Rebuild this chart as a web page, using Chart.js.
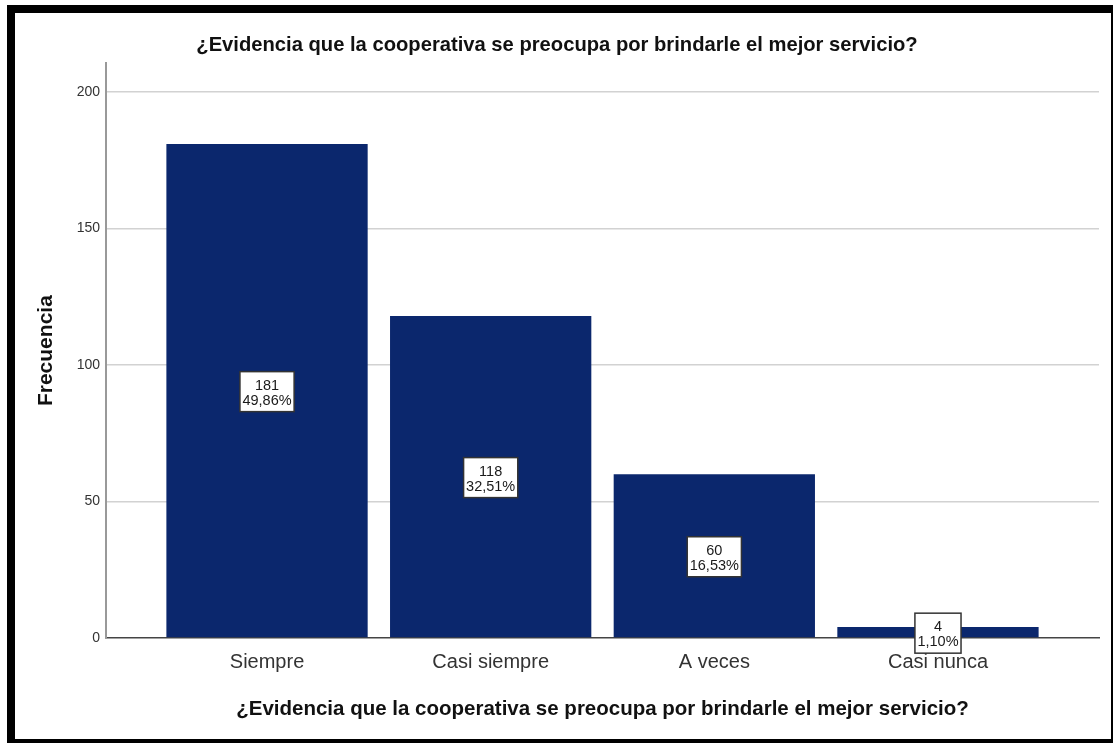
<!DOCTYPE html>
<html lang="es">
<head>
<meta charset="utf-8">
<title>¿Evidencia que la cooperativa se preocupa por brindarle el mejor servicio?</title>
<script src="https://cdn.jsdelivr.net/npm/chart.js@4/dist/chart.umd.min.js"></script>
<style>
  html, body { margin: 0; padding: 0; background: #fff; }
  #frame {
    position: absolute;
    left: 7px;
    top: 5px;
    width: 1096px;
    height: 726px;
    border-left: 8px solid #000;
    border-top: 8px solid #000;
    border-right: 2px solid #000;
    border-bottom: 4px solid #000;
    background: #fff;
  }
  #wrap { position: relative; width: 1096px; height: 726px; }
</style>
</head>
<body>
<div id="frame"><div id="wrap"><canvas id="chart"></canvas></div></div>
<script>
"use strict";

const TITLE = "¿Evidencia que la cooperativa se preocupa por brindarle el mejor servicio?";
const CATEGORIES = ["Siempre", "Casi siempre", "A veces", "Casi nunca"];
const FREQUENCIES = [181, 118, 60, 4];
const PERCENTS = ["49,86%", "32,51%", "16,53%", "1,10%"];
const Y_TICKS = [0, 50, 100, 150, 200];

const FONT = "'Liberation Sans', Arial, sans-serif";
const BAR_COLOR = "#0b276d";

// white boxes with count and percent at the middle of each bar
const barLabels = {
  id: "barLabels",
  afterDatasetsDraw(chart) {
    const { ctx } = chart;
    const meta = chart.getDatasetMeta(0);
    ctx.save();
    ctx.font = `14.5px ${FONT}`;
    ctx.textAlign = "center";
    ctx.textBaseline = "middle";
    meta.data.forEach((bar, i) => {
      const lines = [String(FREQUENCIES[i]), PERCENTS[i]];
      const w = Math.max(...lines.map((t) => ctx.measureText(t).width)) + 5;
      const h = 40;
      const cx = bar.x;
      const cy = (bar.y + bar.base) / 2 + 1;
      ctx.fillStyle = "#fff";
      ctx.fillRect(cx - w / 2, cy - h / 2, w, h);
      ctx.strokeStyle = "#333";
      ctx.lineWidth = 1.5;
      ctx.strokeRect(cx - w / 2, cy - h / 2, w, h);
      ctx.fillStyle = "#1a1a1a";
      ctx.fillText(lines[0], cx, cy - 6);
      ctx.fillText(lines[1], cx, cy + 9);
    });
    ctx.restore();
  },
};

const ctx = document.getElementById("chart").getContext("2d");
new Chart(ctx, {
  type: "bar",
  data: {
    datasets: [{
      data: FREQUENCIES.map((v, i) => ({ x: i + 1, y: v })),
      backgroundColor: BAR_COLOR,
      borderWidth: 0,
      barPercentage: 0.9,
      categoryPercentage: 1.0,
    }],
  },
  options: {
    responsive: true,
    maintainAspectRatio: false,
    animation: false,
    layout: { padding: { left: 0, right: 12, top: 0, bottom: 0 } },
    plugins: {
      legend: { display: false },
      tooltip: { enabled: false },
      title: {
        display: true,
        text: TITLE,
        color: "#111",
        font: { family: FONT, size: 20.2, weight: "bold" },
        padding: { top: 20, bottom: 6 },
      },
    },
    scales: {
      x: {
        type: "linear",
        offset: false,
        min: 0.28,
        max: 4.72,
        afterBuildTicks: (scale) => {
          scale.ticks = CATEGORIES.map((_, i) => ({ value: i + 1 }));
        },
        afterFit: (scale) => { scale.height = 101; },
        ticks: {
          color: "#333",
          font: { family: FONT, size: 20 },
          padding: 12,
          autoSkip: false,
          maxRotation: 0,
          callback: (v) => CATEGORIES[v - 1] ?? "",
        },
        grid: { display: false, drawTicks: false },
        border: { display: true, color: "#444", width: 1.5 },
        title: {
          display: true,
          text: TITLE,
          color: "#111",
          font: { family: FONT, size: 20.5, weight: "bold" },
          padding: { top: 0, bottom: 17 },
        },
      },
      y: {
        min: 0,
        max: 210.6,
        afterBuildTicks: (scale) => {
          scale.ticks = Y_TICKS.map((v) => ({ value: v }));
        },
        afterFit: (scale) => { scale.width = 91; },
        ticks: {
          color: "#333",
          font: { family: FONT, size: 14 },
          padding: 6,
        },
        grid: {
          drawTicks: false,
          color: (c) => (c.tick && c.tick.value === 0 ? "rgba(0,0,0,0)" : "#d2d2d2"),
          lineWidth: 1.5,
        },
        border: { display: true, color: "#999", width: 2 },
        title: {
          display: true,
          text: "Frecuencia",
          color: "#111",
          font: { family: FONT, size: 21, weight: "bold" },
          padding: { top: 19, bottom: 0 },
        },
      },
    },
  },
  plugins: [barLabels],
});
</script>
</body>
</html>
